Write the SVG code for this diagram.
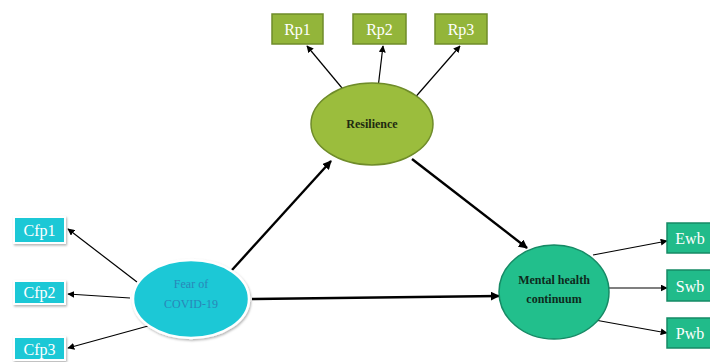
<svg xmlns="http://www.w3.org/2000/svg" width="710" height="362" viewBox="0 0 710 362">
<defs>
<marker id="ah" viewBox="0 0 10 10" refX="9" refY="5" markerWidth="7" markerHeight="7" markerUnits="userSpaceOnUse" orient="auto"><path d="M0,0 L10,5 L0,10 z" fill="#000"/></marker>
<marker id="ahb" viewBox="0 0 10 10" refX="9" refY="5" markerWidth="9" markerHeight="9" markerUnits="userSpaceOnUse" orient="auto"><path d="M0,0 L10,5 L0,10 z" fill="#000"/></marker>
<filter id="sh" x="-20%" y="-20%" width="150%" height="150%"><feDropShadow dx="1" dy="1.5" stdDeviation="1.2" flood-color="#000" flood-opacity="0.3"/></filter>
</defs>
<style>
.rp{fill:#93b53a;stroke:#6f8c2a;stroke-width:1.5}
.cf{fill:#1ec8d6;stroke:#fff;stroke-width:2;filter:url(#sh)}
.wb{fill:#21bb8a;stroke:#168a65;stroke-width:1.5}
.bl{font-family:"Liberation Serif",serif;font-size:16px;fill:#fff;text-anchor:middle}
.lt{font-family:"Liberation Serif",serif;font-size:12px;text-anchor:middle}
.thin{stroke:#000;stroke-width:1.2;fill:none;marker-end:url(#ah)}
.thick{stroke:#000;stroke-width:2.4;fill:none;marker-end:url(#ahb)}
</style>
<rect width="710" height="362" fill="#fff"/>
<g id="connectors">
<line class="thin" x1="347" y1="94" x2="307" y2="46"/>
<line class="thin" x1="378" y1="88" x2="383" y2="46"/>
<line class="thin" x1="412" y1="101" x2="460" y2="46"/>
<line class="thick" x1="232" y1="270" x2="331" y2="161"/>
<line class="thick" x1="412" y1="159" x2="527" y2="248"/>
<line class="thick" x1="252" y1="299" x2="499" y2="296"/>
<line class="thin" x1="137" y1="282" x2="68" y2="229"/>
<line class="thin" x1="130" y1="298" x2="68" y2="294"/>
<line class="thin" x1="148" y1="326" x2="68" y2="348"/>
<line class="thin" x1="593" y1="255" x2="667" y2="241"/>
<line class="thin" x1="608" y1="288" x2="667" y2="288"/>
<line class="thin" x1="595" y1="320" x2="667" y2="333"/>
</g>
<g id="rp1"><rect class="rp" x="272" y="14" width="51" height="30"/><text class="bl" x="297.5" y="35">Rp1</text></g>
<g id="rp2"><rect class="rp" x="353" y="14" width="53" height="30"/><text class="bl" x="379.5" y="35">Rp2</text></g>
<g id="rp3"><rect class="rp" x="435" y="14" width="52" height="30"/><text class="bl" x="461" y="35">Rp3</text></g>
<g id="resilience"><ellipse cx="372" cy="124" rx="61" ry="41" fill="#9bbd3d" stroke="#6f8c2a" stroke-width="1.5"/><text class="lt" x="372" y="128" font-weight="bold" fill="#1f2a10">Resilience</text></g>
<g id="cfp1"><rect class="cf" x="14" y="217" width="51" height="26"/><text class="bl" x="39.5" y="236">Cfp1</text></g>
<g id="cfp2"><rect class="cf" x="14" y="281" width="51" height="23"/><text class="bl" x="39.5" y="298">Cfp2</text></g>
<g id="cfp3"><rect class="cf" x="14" y="337" width="51" height="23"/><text class="bl" x="39.5" y="355">Cfp3</text></g>
<g id="fear"><ellipse cx="191" cy="299" rx="58" ry="39" fill="#1ec8d6" stroke="#fff" stroke-width="2.5" filter="url(#sh)"/><text class="lt" x="191" y="288" fill="#2a86b8">Fear of</text><text class="lt" x="191" y="308" fill="#2a86b8">COVID-19</text></g>
<g id="mental"><ellipse cx="554" cy="292" rx="55" ry="47" fill="#22bf8c" stroke="#168a65" stroke-width="1.5"/><text class="lt" x="554" y="284" font-weight="bold" fill="#0e2a1c">Mental health</text><text class="lt" x="554" y="303" font-weight="bold" fill="#0e2a1c">continuum</text></g>
<g id="ewb"><rect class="wb" x="667" y="223" width="46" height="30"/><text class="bl" x="690" y="244">Ewb</text></g>
<g id="swb"><rect class="wb" x="667" y="270" width="46" height="31"/><text class="bl" x="690" y="292">Swb</text></g>
<g id="pwb"><rect class="wb" x="667" y="318" width="46" height="30"/><text class="bl" x="690" y="339">Pwb</text></g>
</svg>
